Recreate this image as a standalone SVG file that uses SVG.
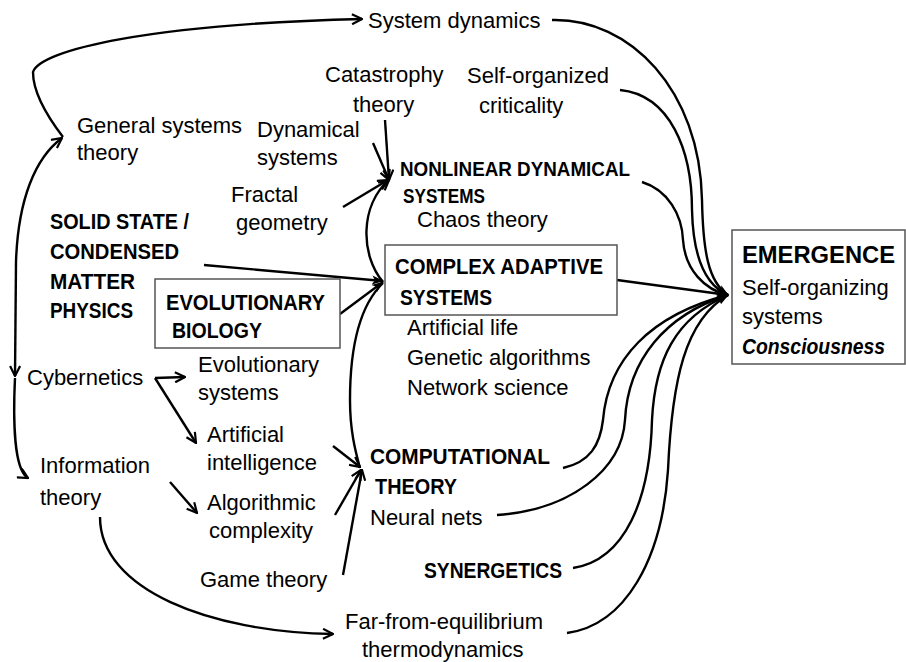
<svg xmlns="http://www.w3.org/2000/svg" width="906" height="662" viewBox="0 0 906 662">
<style>
text{font-family:"Liberation Sans",Arial,sans-serif;fill:#000}
.t{font-size:22px}
.b19{font-size:19.5px;font-weight:bold}
.b22{font-size:22px;font-weight:bold}
.b24{font-size:24px;font-weight:bold}
.bi{font-size:22px;font-weight:bold;font-style:italic}
.box{fill:#fff;stroke:#555;stroke-width:1.5}
.c{fill:none;stroke:#000;stroke-width:2.4}
.ca{fill:none;stroke:#000;stroke-width:2.4;marker-end:url(#a)}
.cf{fill:none;stroke:#000;stroke-width:2.4;marker-end:url(#f)}
</style>
<defs>
<marker id="a" viewBox="0 0 12 12" refX="11" refY="6" markerWidth="12" markerHeight="12" markerUnits="userSpaceOnUse" orient="auto"><path d="M1,1 L11,6 L1,11" fill="none" stroke="#000" stroke-width="2.2"/></marker>
<marker id="f" viewBox="0 0 12 12" refX="11" refY="6" markerWidth="12" markerHeight="12" markerUnits="userSpaceOnUse" orient="auto"><path d="M0,1.5 L12,6 L0,10.5 L3,6 z" fill="#000"/></marker>
</defs>
<rect width="906" height="662" fill="#fff"/>
<g id="connectors">
<path class="ca" d="M63 137 C50 120 33 95 33 72 C40 50 150 24 362 19"/>
<path class="ca" d="M16 262 C18 200 35 158 62 138"/>
<path class="ca" d="M16 262 L15 376"/>
<path class="ca" d="M15 378 C13 420 14 470 28 478"/>
<path class="ca" d="M155 378 L185 377"/>
<path class="ca" d="M155 378 L196 443"/>
<path class="ca" d="M170 482 L197 513"/>
<path class="ca" d="M100 517 C100 590 210 632 333 634"/>
<path class="ca" d="M385 120 L389 180"/>
<path class="ca" d="M373 143 L389 180"/>
<path class="ca" d="M343 207 L388 180"/>
<path class="ca" d="M383 282 C360 255 360 205 389 180"/>
<path class="cf" d="M204 265 L383 281"/>
<path class="cf" d="M340 314 L383 282"/>
<path class="c" d="M383 283 C355 310 350 360 350 400 C350 430 355 450 360 468"/>
<path class="ca" d="M333 446 L360 467"/>
<path class="ca" d="M335 515 L361 470"/>
<path class="ca" d="M343 575 L362 470"/>
<path class="cf" d="M552 20 C630 18 700 90 702 200 C703 250 708 282 728 295"/>
<path class="cf" d="M620 90 C670 95 692 150 692 210 C693 255 705 285 728 295"/>
<path class="cf" d="M642 182 C668 190 682 215 683 240 C685 270 705 290 728 295"/>
<path class="cf" d="M617 280 L728 295"/>
<path class="cf" d="M563 468 C590 462 600 445 603 420 C608 360 650 315 728 295"/>
<path class="cf" d="M497 515 C570 510 622 470 625 420 C628 360 665 315 728 295"/>
<path class="cf" d="M573 568 C625 560 650 500 652 420 C655 360 675 318 728 295"/>
<path class="cf" d="M567 633 C625 625 662 560 668 470 C672 380 685 320 728 295"/>
</g>
<g id="system-dynamics"><text class="t" x="368" y="28">System dynamics</text></g>
<g id="catastrophy"><text class="t" x="325" y="82">Catastrophy</text><text class="t" x="353" y="112">theory</text></g>
<g id="soc"><text class="t" x="467" y="83">Self-organized</text><text class="t" x="479" y="113">criticality</text></g>
<g id="general-systems"><text class="t" x="77" y="133">General systems</text><text class="t" x="77" y="160">theory</text></g>
<g id="dynamical"><text class="t" x="257" y="137">Dynamical</text><text class="t" x="257" y="165">systems</text></g>
<g id="fractal"><text class="t" x="231" y="202">Fractal</text><text class="t" x="236" y="230">geometry</text></g>
<g id="nonlinear"><text class="b19" x="400" y="176" textLength="230" lengthAdjust="spacingAndGlyphs">NONLINEAR DYNAMICAL</text><text class="b19" x="403" y="203" textLength="82" lengthAdjust="spacingAndGlyphs">SYSTEMS</text><text class="t" x="417" y="227">Chaos theory</text></g>
<g id="solid-state"><text class="b22" x="50" y="229" textLength="139" lengthAdjust="spacingAndGlyphs">SOLID STATE /</text><text class="b22" x="50" y="259" textLength="129" lengthAdjust="spacingAndGlyphs">CONDENSED</text><text class="b22" x="50" y="289" textLength="85" lengthAdjust="spacingAndGlyphs">MATTER</text><text class="b22" x="50" y="318" textLength="83" lengthAdjust="spacingAndGlyphs">PHYSICS</text></g>
<g id="cas"><rect class="box" x="385" y="245" width="232" height="70"/><text class="b22" x="395" y="274" textLength="208" lengthAdjust="spacingAndGlyphs">COMPLEX ADAPTIVE</text><text class="b22" x="400" y="305" textLength="92" lengthAdjust="spacingAndGlyphs">SYSTEMS</text></g>
<g id="evo-bio"><rect class="box" x="155" y="279" width="185" height="69"/><text class="b22" x="166" y="310" textLength="159" lengthAdjust="spacingAndGlyphs">EVOLUTIONARY</text><text class="b22" x="172" y="338" textLength="90" lengthAdjust="spacingAndGlyphs">BIOLOGY</text></g>
<g id="cas-items"><text class="t" x="407" y="335">Artificial life</text><text class="t" x="407" y="365">Genetic algorithms</text><text class="t" x="407" y="395">Network science</text></g>
<g id="emergence"><rect class="box" x="732" y="230" width="173" height="134"/><text class="b24" x="742" y="263" textLength="153" lengthAdjust="spacingAndGlyphs">EMERGENCE</text><text class="t" x="742" y="295">Self-organizing</text><text class="t" x="742" y="324">systems</text><text class="bi" x="742" y="354" textLength="143" lengthAdjust="spacingAndGlyphs">Consciousness</text></g>
<g id="cybernetics"><text class="t" x="27" y="385">Cybernetics</text></g>
<g id="evo-systems"><text class="t" x="198" y="372">Evolutionary</text><text class="t" x="198" y="400">systems</text></g>
<g id="ai"><text class="t" x="207" y="442">Artificial</text><text class="t" x="207" y="470">intelligence</text></g>
<g id="information"><text class="t" x="40" y="473">Information</text><text class="t" x="40" y="505">theory</text></g>
<g id="algorithmic"><text class="t" x="207" y="510">Algorithmic</text><text class="t" x="209" y="538">complexity</text></g>
<g id="computational"><text class="b22" x="370" y="464" textLength="180" lengthAdjust="spacingAndGlyphs">COMPUTATIONAL</text><text class="b22" x="375" y="494" textLength="82" lengthAdjust="spacingAndGlyphs">THEORY</text><text class="t" x="370" y="525">Neural nets</text></g>
<g id="game"><text class="t" x="200" y="587">Game theory</text></g>
<g id="synergetics"><text class="b22" x="424" y="578" textLength="138" lengthAdjust="spacingAndGlyphs">SYNERGETICS</text></g>
<g id="far-from"><text class="t" x="345" y="629">Far-from-equilibrium</text><text class="t" x="362" y="657">thermodynamics</text></g>
</svg>
